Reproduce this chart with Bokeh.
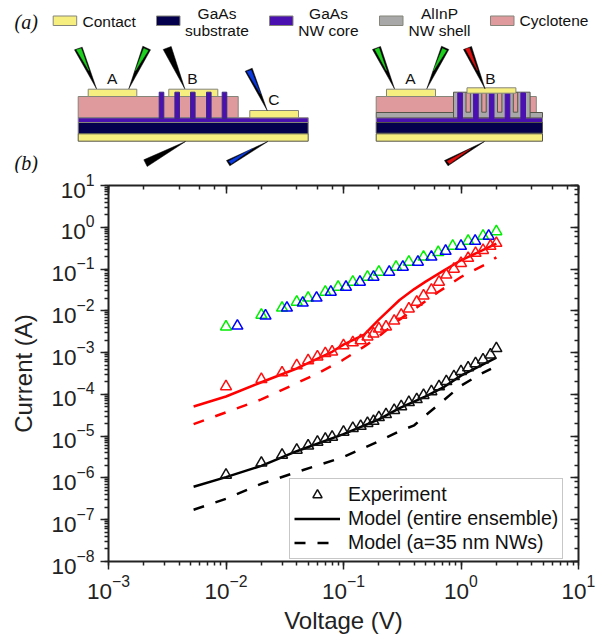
from bokeh.plotting import figure
from bokeh.models import LogAxis, Legend, LegendItem, Range1d
from bokeh.layouts import column
from bokeh.core.properties import value
from bokeh.embed import file_html
from bokeh.resources import INLINE
import numpy as np

# ---------- data (log10 of current in A) ----------
exp_voltage = [0.01, 0.02, 0.03, 0.04, 0.05, 0.06, 0.07, 0.08, 0.1, 0.12, 0.14, 0.16, 0.18,
               0.2, 0.23, 0.27, 0.31, 0.36, 0.42, 0.48, 0.56, 0.65, 0.75, 0.87, 1.0, 1.15,
               1.33, 1.54, 1.78, 2.0]
black_exp_log = [-5.93, -5.64, -5.45, -5.33, -5.23, -5.14, -5.07, -5.02, -4.90, -4.81, -4.76,
                 -4.69, -4.64, -4.55, -4.48, -4.38, -4.29, -4.19, -4.12, -4.02, -3.93, -3.81,
                 -3.69, -3.57, -3.45, -3.36, -3.26, -3.17, -3.05, -2.90]
red_exp_log = [-3.81, -3.64, -3.48, -3.31, -3.19, -3.10, -3.02, -2.98, -2.83, -2.76, -2.71,
               -2.62, -2.55, -2.43, -2.38, -2.24, -2.10, -1.95, -1.79, -1.64, -1.50, -1.31,
               -1.14, -1.00, -0.86, -0.74, -0.62, -0.55, -0.45, -0.38]

green_voltage = [0.01, 0.02, 0.03, 0.04, 0.05, 0.07, 0.09, 0.12, 0.16, 0.2, 0.28, 0.36, 0.48,
                 0.64, 0.85, 1.15, 1.54, 2.0]
green_exp_log = [-2.38, -2.10, -1.93, -1.79, -1.69, -1.55, -1.43, -1.31, -1.19, -1.07, -0.95,
                 -0.83, -0.71, -0.60, -0.45, -0.33, -0.21, -0.10]
blue_voltage = [0.0125, 0.0217, 0.033, 0.045, 0.059, 0.078, 0.105, 0.138, 0.18, 0.245, 0.32,
                0.43, 0.56, 0.74, 1.0, 1.32, 1.72]
blue_exp_log = [-2.36, -2.12, -1.93, -1.81, -1.69, -1.55, -1.43, -1.31, -1.19, -1.07, -0.95,
                -0.83, -0.71, -0.57, -0.45, -0.33, -0.21]

black_solid_v = [0.0053, 0.01, 0.02, 0.04, 0.1, 0.2, 0.3, 0.5, 0.7, 1.0, 2.0]
black_solid_log = [-6.21, -5.98, -5.71, -5.36, -4.95, -4.60, -4.33, -4.05, -3.84, -3.55, -3.12]
black_dash_v = [0.0053, 0.01, 0.02, 0.04, 0.1, 0.2, 0.3, 0.4, 0.5, 0.7, 1.0, 1.5, 1.8]
black_dash_log = [-6.76, -6.5, -6.14, -5.86, -5.5, -5.12, -4.88, -4.74, -4.5, -4.16, -3.79, -3.5, -3.39]
red_solid_v = [0.0053, 0.01, 0.02, 0.04, 0.08, 0.1, 0.15, 0.2, 0.3, 0.4, 0.5, 0.7, 1.0, 1.5, 2.0]
red_solid_log = [-4.29, -4.05, -3.71, -3.38, -2.98, -2.81, -2.57, -2.21, -1.74, -1.48, -1.30,
                 -1.05, -0.79, -0.56, -0.39]
red_dash_v = [0.0053, 0.01, 0.02, 0.038, 0.06, 0.097, 0.155, 0.2, 0.3, 0.45, 0.64, 1.0, 1.59, 2.0]
red_dash_log = [-4.71, -4.43, -4.12, -3.76, -3.5, -3.19, -2.83, -2.61, -2.21, -1.86, -1.55, -1.19,
                -0.90, -0.72]

legend_labels = ["Experiment", "Model (entire ensemble)", "Model (a=35 nm NWs)"]
x_label = "Voltage (V)"
y_label = "Current (A)"

FONT = "Liberation Sans"
YELLOW, NAVY, PURPLE, GRAY, PINK = "#F7EE80", "#05004D", "#4A10B0", "#A8A8A8", "#DF9A9E"
EDGE = "#85857a"


def cur(a):
    return 10.0 ** np.array(a)


# ---------- panel (a): schematic, in page pixel coordinates ----------
s = figure(width=602, height=173, x_range=Range1d(0, 602), y_range=Range1d(173, 0),
           toolbar_location=None, output_backend="svg", x_axis_location=None,
           y_axis_location=None, min_border=0, outline_line_color=None, frame_align=False)
s.grid.visible = False


def box(l, r, t, b, c, edge=EDGE, w=1.0):
    s.quad(left=[l], right=[r], top=[t], bottom=[b], fill_color=c, line_color=edge, line_width=w)


def poly(xs, ys, c):
    s.patch(xs, ys, fill_color=c, line_color=c, line_width=0.5)


def label(x, y, t, size="15.5px", align="center", font=FONT, style="normal"):
    s.text([x], [y], text=[t], text_font=value(font), text_font_size=size, text_align=align,
           text_baseline="middle", text_color="#111111", text_font_style=style)


# legend of the schematic
for l, c in [(52.7, YELLOW), (156, NAVY), (269, PURPLE), (379, GRAY), (490, PINK)]:
    box(l, l + 23.5, 15.5, 25, c)
label(82, 21, "Contact", align="left")
label(216.5, 13, "GaAs"); label(216.5, 30, "substrate")
label(328, 13, "GaAs"); label(328, 30, "NW core")
label(439, 13, "AlInP"); label(439, 30, "NW shell")
label(519, 20, "Cyclotene", align="left")
label(14, 21, "(a)", size="20px", align="left", font="Liberation Serif", style="italic")
label(14, 162, "(b)", size="20px", align="left", font="Liberation Serif", style="italic")

# left device
box(77.7, 237.7, 96, 117.3, PINK)
box(77.7, 307.7, 117.3, 122, PURPLE)
box(77.7, 307.7, 122, 133.3, NAVY)
box(77.7, 307.7, 133.3, 140.7, YELLOW, "#55554a")
box(87.7, 136.3, 88.7, 96, YELLOW)
box(168.3, 217.3, 88.7, 96, YELLOW)
box(249.3, 298, 110, 117.3, YELLOW)
for xc in [161, 176.7, 192.3, 208.3, 224]:
    box(xc - 2.3, xc + 2.3, 91.7, 118, PURPLE, "#3a2a80")

# right device
box(375.7, 535.8, 96, 112, PINK)
box(375.7, 542, 112, 117.3, GRAY, "#55554a")
box(375.7, 542, 117.3, 122, PURPLE)
box(375.7, 542, 122, 132.7, NAVY, "#55554a")
box(375.7, 542, 133.3, 140.7, YELLOW, "#55554a")
box(386, 435, 88.7, 96, YELLOW)
box(453, 529.6, 91.7, 117.3, GRAY, "#55554a")
for xc in [459.6, 475.4, 491.2, 507, 522.7]:
    box(xc - 2.3, xc + 2.3, 92.5, 118, PURPLE, PURPLE)
for xc in [467.7, 483.5, 499.2, 515]:
    box(xc - 2.2, xc + 2.2, 92, 111.7, PINK, "#55554a")
box(466.5, 515.4, 87.3, 92.7, YELLOW)

# probes: dark needle with a coloured core
GREEN_P, BLUE_P, RED_P = "#1fd11f", "#0a3ae0", "#e01010"
DARK = "#000000"
poly([96, 74, 81.7], [88.3, 49.3, 46.7], DARK)
poly([76, 80.7, 88.3], [49.3, 48, 70], GREEN_P)
poly([128.3, 142.3, 150], [88.3, 45.7, 49.3], DARK)
poly([143.3, 147.7, 135], [48, 50, 70], GREEN_P)
poly([184.3, 162.7, 170.7], [88.3, 49, 46], DARK)
poly([266.7, 244.7, 251.7], [110, 70.7, 67.7], DARK)
poly([246.3, 250.7, 260], [71, 69.7, 93.3], BLUE_P)
poly([185, 143.3, 146.7], [141, 159.3, 166], DARK)
poly([267.3, 226, 229.3], [141, 160, 165.3], DARK)
poly([228.3, 230.7, 251.7], [160.7, 163.3, 148.3], BLUE_P)
# right device probes
poly([394, 372, 380], [88.3, 49, 46], DARK)
poly([374.5, 378.5, 386], [49, 47.5, 70], GREEN_P)
poly([426.3, 441, 448.3], [88.3, 45.7, 49], DARK)
poly([442, 446, 433], [48, 50, 70], GREEN_P)
poly([484.5, 463, 471], [88.3, 49, 46], DARK)
poly([465, 469, 477], [48.5, 47.5, 70], RED_P)
poly([484, 444, 447.5], [141, 160, 165.3], DARK)
poly([446.5, 449, 470], [160.7, 163.3, 148.3], RED_P)

label(111.7, 78.3, "A"); label(192, 78.3, "B"); label(273.3, 99, "C")
label(410, 78.3, "A"); label(490, 78.3, "B")

# ---------- panel (b): log-log plot ----------
p = figure(width=602, height=463,
           x_axis_type="log", y_axis_type="log",
           x_range=Range1d(1e-3, 1e1), y_range=Range1d(1e-8, 1e1),
           toolbar_location=None, output_backend="svg", frame_align=False,
           min_border_left=108, min_border_right=24, min_border_top=12, min_border_bottom=73,
           outline_line_color=None, x_axis_label=x_label, y_axis_label=y_label)
p.grid.visible = False
p.add_layout(LogAxis(), "above")
p.add_layout(LogAxis(), "right")

for ax in p.axis:
    ax.axis_line_width = 2
    ax.axis_line_color = "#222222"
    ax.major_tick_line_color = "#222222"
    ax.minor_tick_line_color = "#222222"
    ax.major_tick_line_width = 1.5
    ax.minor_tick_line_width = 1.5
    ax.major_tick_out = 8
    ax.major_tick_in = 0
    ax.minor_tick_out = 4
    ax.minor_tick_in = 0
    ax.major_label_text_font = FONT
    ax.major_label_text_font_size = "22.5px"
    ax.major_label_text_color = "#222222"
    ax.axis_label_text_font = FONT
    ax.axis_label_text_font_size = "24px"
    ax.axis_label_text_font_style = "normal"
    ax.axis_label_text_color = "#222222"
for ax in list(p.above) + list(p.right):
    ax.major_label_text_font_size = "0px"
    ax.major_label_text_color = None
    ax.major_label_standoff = 0
    ax.major_tick_out = 0
    ax.major_tick_in = 8
    ax.minor_tick_out = 0
    ax.minor_tick_in = 4
p.yaxis[0].axis_label_standoff = 12
p.xaxis[0].axis_label_standoff = 4
p.xaxis[0].major_label_standoff = 8
p.yaxis[0].major_label_standoff = 6

LW = 2.5
DASH = "11 12"
r_bs = p.line(black_solid_v, cur(black_solid_log), line_color="black", line_width=LW)
r_bd = p.line(black_dash_v, cur(black_dash_log), line_color="black", line_width=LW, line_dash=DASH)
p.line(red_solid_v, cur(red_solid_log), line_color="#ff0000", line_width=LW)
p.line(red_dash_v, cur(red_dash_log), line_color="#ff0000", line_width=LW, line_dash=DASH)


def tri(x, y, c):
    return p.scatter(x, cur(y), marker="triangle", size=11, fill_color=None, line_color=c, line_width=1.5)


tri(green_voltage, green_exp_log, "#00ee00")
tri(blue_voltage, blue_exp_log, "#0000ff")
tri(exp_voltage, red_exp_log, "#ff1010")
r_exp = tri(exp_voltage, black_exp_log, "#111111")

leg = Legend(items=[LegendItem(label=legend_labels[0], renderers=[r_exp]),
                    LegendItem(label=legend_labels[1], renderers=[r_bs]),
                    LegendItem(label=legend_labels[2], renderers=[r_bd])],
             location=(181, 2), orientation="vertical")
leg.border_line_color = "#909090"
leg.border_line_width = 1.5
leg.background_fill_alpha = 1
leg.label_text_font = FONT
leg.label_text_font_size = "19.5px"
leg.label_text_color = "#111111"
leg.glyph_width = 46
leg.glyph_height = 23
leg.label_height = 23
leg.label_standoff = 8
leg.spacing = 1
leg.padding = 4
leg.margin = 0
p.add_layout(leg, "center")

layout = column(s, p, spacing=0)
open("out.html", "w").write(file_html(layout, INLINE))
